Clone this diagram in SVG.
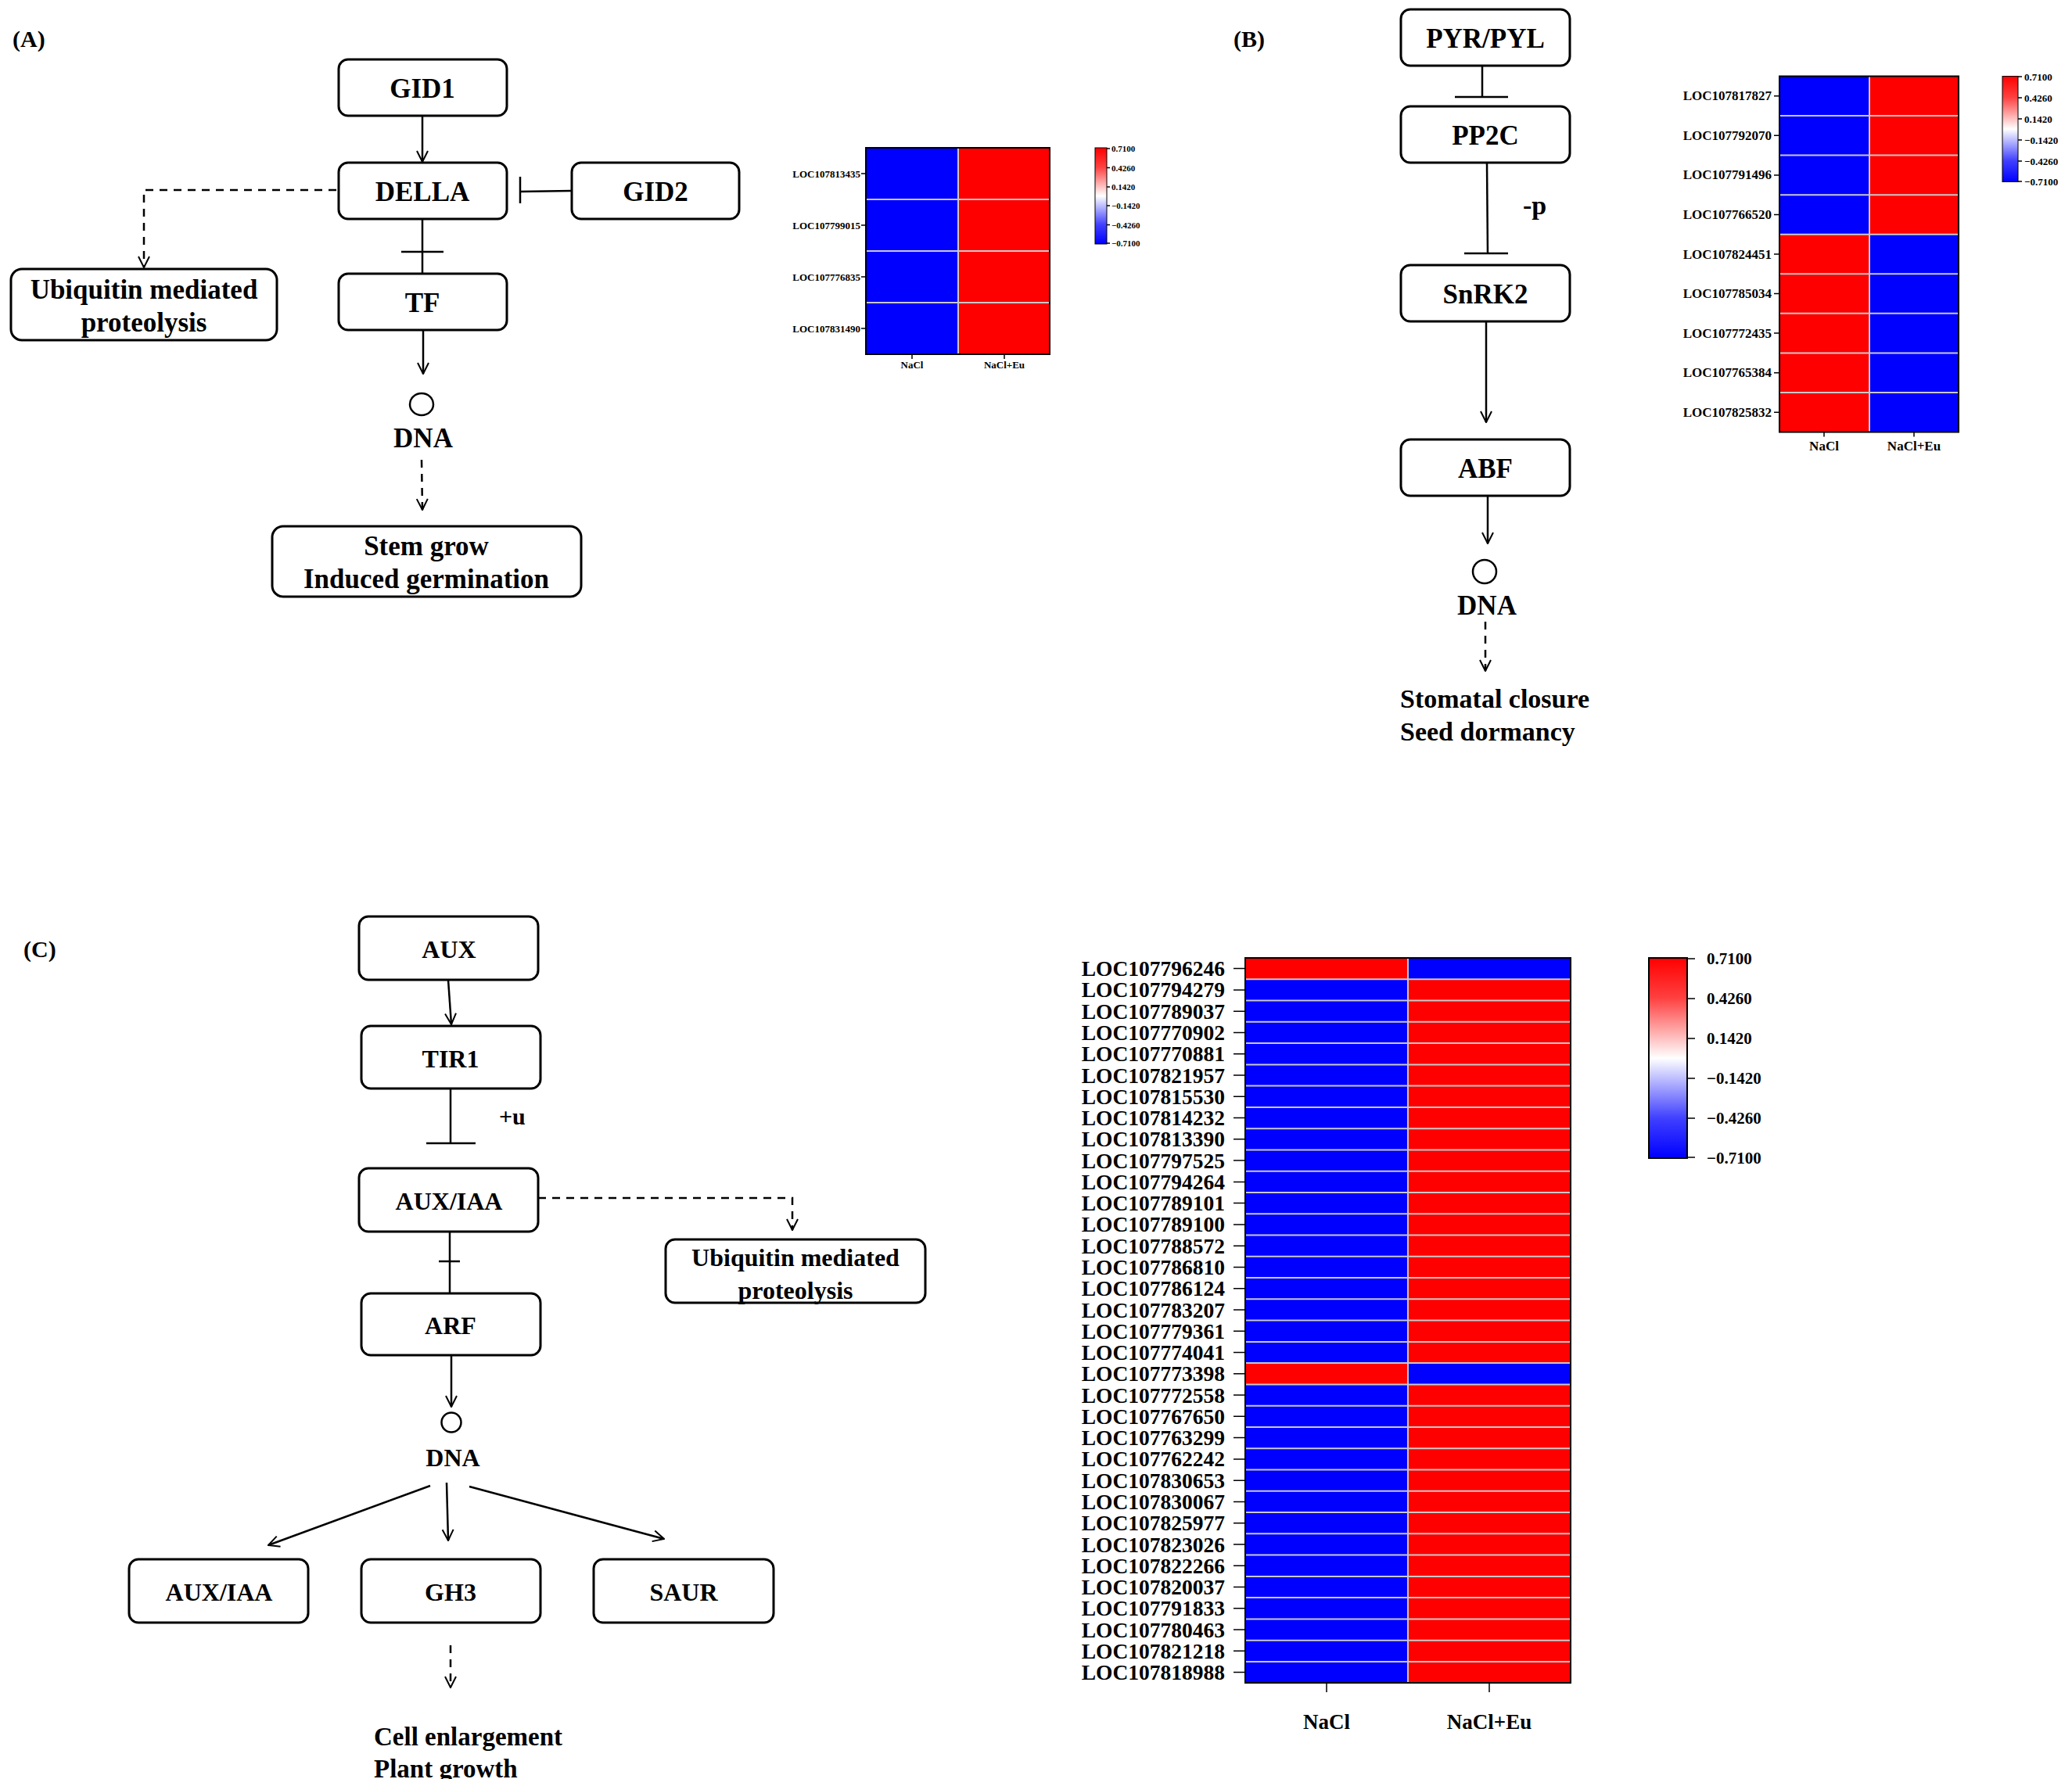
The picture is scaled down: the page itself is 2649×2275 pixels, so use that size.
<svg xmlns="http://www.w3.org/2000/svg" width="2649" height="2275" viewBox="0 0 2649 2275">
<style>
text{font-family:"Liberation Serif","Times New Roman",serif;font-weight:bold;fill:#000}
.box{fill:#fff;stroke:#000;stroke-width:3}
.ln{stroke:#000;stroke-width:2.5;fill:none}
.dash{stroke:#000;stroke-width:2.5;fill:none;stroke-dasharray:10 8}
.arr{marker-end:url(#ah)}
.t{font-size:35px;text-anchor:middle;dominant-baseline:central}
.tc{font-size:32px;text-anchor:middle;dominant-baseline:central}
.sep{stroke:#c8c8c8;stroke-width:2}
.hb{fill:none;stroke:#000;stroke-width:2}
.tk{stroke:#000;stroke-width:1.5}
</style>
<defs>
<marker id="ah" viewBox="0 0 16 16" refX="15" refY="8" markerWidth="16" markerHeight="18" markerUnits="userSpaceOnUse" orient="auto"><path d="M1,1 L15,8 L1,15" fill="none" stroke="#000" stroke-width="2"/></marker>
<linearGradient id="cb" x1="0" y1="0" x2="0" y2="1"><stop offset="0" stop-color="#ff0000"/><stop offset="0.2" stop-color="#ff4040"/><stop offset="0.5" stop-color="#ffffff"/><stop offset="0.8" stop-color="#4040ff"/><stop offset="1" stop-color="#0000ff"/></linearGradient>
</defs>
<rect width="2649" height="2275" fill="#fff"/>

<!-- Panel A -->
<text x="16" y="60" font-size="30">(A)</text>
<g id="connectorsA">
<line class="ln arr" x1="540" y1="148" x2="540" y2="207"/>
<line class="ln" x1="731" y1="244" x2="665" y2="245"/><line class="ln" x1="665" y1="226" x2="665" y2="260"/>
<line class="ln" x1="540" y1="280" x2="540" y2="349"/><line class="ln" x1="513" y1="322" x2="567" y2="322"/>
<path class="dash arr" d="M430,243 H184 V342"/>
<line class="ln arr" x1="541" y1="422" x2="541" y2="478"/>
<line class="dash arr" x1="539" y1="588" x2="540" y2="652"/>
</g>
<g id="GID1"><rect class="box" x="433" y="76" width="215" height="72" rx="12"/><text class="t" x="540" y="113">GID1</text></g>
<g id="DELLA"><rect class="box" x="433" y="208" width="215" height="72" rx="12"/><text class="t" x="540" y="245">DELLA</text></g>
<g id="GID2"><rect class="box" x="731" y="208" width="214" height="72" rx="12"/><text class="t" x="838" y="245">GID2</text></g>
<g id="TF"><rect class="box" x="433" y="350" width="215" height="72" rx="12"/><text class="t" x="540" y="387">TF</text></g>
<g id="UbiA"><rect class="box" x="14" y="344" width="340" height="91" rx="14"/><text class="t" x="184" y="370">Ubiquitin mediated</text><text class="t" x="184" y="412">proteolysis</text></g>
<g id="DNA_A"><ellipse cx="539" cy="517" rx="15" ry="14" fill="none" stroke="#000" stroke-width="2.5"/><text class="t" x="541" y="560">DNA</text></g>
<g id="StemA"><rect class="box" x="348" y="673" width="395" height="90" rx="14"/><text class="t" x="545" y="698">Stem grow</text><text class="t" x="545" y="740">Induced germination</text></g>
<g id="heatA">
<rect x="1107" y="189" width="118" height="264" fill="#0000ff"/><rect x="1225" y="189" width="117" height="264" fill="#ff0000"/>
<line class="sep" x1="1107" y1="255" x2="1342" y2="255"/><line class="sep" x1="1107" y1="321" x2="1342" y2="321"/><line class="sep" x1="1107" y1="387" x2="1342" y2="387"/>
<line class="sep" x1="1225" y1="189" x2="1225" y2="453"/>
<rect class="hb" x="1107" y="189" width="235" height="264" stroke-width="1.5"/>
<path class="tk" d="M1101,222h6M1101,288h6M1101,354h6M1101,420h6M1166,453v6M1284,453v6"/>
<g font-size="13" text-anchor="end" dominant-baseline="central"><text x="1100" y="222">LOC107813435</text><text x="1100" y="288">LOC107799015</text><text x="1100" y="354">LOC107776835</text><text x="1100" y="420">LOC107831490</text></g>
<g font-size="13" text-anchor="middle"><text x="1166" y="471">NaCl</text><text x="1284" y="471">NaCl+Eu</text></g>
<rect x="1400" y="189" width="15" height="123" fill="url(#cb)" stroke="#000" stroke-width="1"/>
<path class="tk" d="M1415,190h4M1415,214.5h4M1415,239h4M1415,263h4M1415,287.5h4M1415,311h4"/>
<g font-size="11" dominant-baseline="central"><text x="1421" y="190">0.7100</text><text x="1421" y="214.5">0.4260</text><text x="1421" y="239">0.1420</text><text x="1421" y="263">−0.1420</text><text x="1421" y="287.5">−0.4260</text><text x="1421" y="311">−0.7100</text></g>
</g>

<!-- Panel B -->
<text x="1577" y="60" font-size="30">(B)</text>
<g id="connectorsB">
<line class="ln" x1="1895" y1="84" x2="1895" y2="124"/><line class="ln" x1="1860" y1="124" x2="1928" y2="124"/>
<line class="ln" x1="1901" y1="208" x2="1902" y2="324"/><line class="ln" x1="1872" y1="324" x2="1928" y2="324"/>
<line class="ln arr" x1="1900" y1="411" x2="1900" y2="540"/>
<line class="ln arr" x1="1902" y1="634" x2="1902" y2="695"/>
<line class="dash arr" x1="1899" y1="795" x2="1899" y2="858"/>
</g>
<text x="1962" y="262" font-size="34" text-anchor="middle" dominant-baseline="central">-p</text>
<g id="PYR"><rect class="box" x="1791" y="12" width="216" height="72" rx="12"/><text class="t" x="1899" y="49">PYR/PYL</text></g>
<g id="PP2C"><rect class="box" x="1791" y="136" width="216" height="72" rx="12"/><text class="t" x="1899" y="173">PP2C</text></g>
<g id="SnRK2"><rect class="box" x="1791" y="339" width="216" height="72" rx="12"/><text class="t" x="1899" y="376">SnRK2</text></g>
<g id="ABF"><rect class="box" x="1791" y="562" width="216" height="72" rx="12"/><text class="t" x="1899" y="599">ABF</text></g>
<g id="DNA_B"><circle cx="1898" cy="731" r="15" fill="none" stroke="#000" stroke-width="2.5"/><text class="t" x="1901" y="774">DNA</text></g>
<g id="OutB" font-size="34"><text x="1790" y="905">Stomatal closure</text><text x="1790" y="947">Seed dormancy</text></g>
<g id="heatB">
<rect x="2275" y="97.5" width="115" height="455" fill="#0000ff"/><rect x="2390" y="97.5" width="114" height="455" fill="#ff0000"/>
<rect x="2275" y="299.7" width="115" height="252.8" fill="#ff0000"/><rect x="2390" y="299.7" width="114" height="252.8" fill="#0000ff"/>
<path class="sep" d="M2275,148.1H2504M2275,198.6H2504M2275,249.2H2504M2275,299.7H2504M2275,350.3H2504M2275,400.8H2504M2275,451.4H2504M2275,501.9H2504M2390,97.5V552.5"/>
<rect class="hb" x="2275" y="97.5" width="229" height="455" stroke-width="1.5"/>
<path class="tk" d="M2268,122.8h7M2268,173.3h7M2268,223.9h7M2268,274.5h7M2268,325h7M2268,375.6h7M2268,426.1h7M2268,476.7h7M2268,527.2h7M2332,552.5v6M2447,552.5v6"/>
<g font-size="17" text-anchor="end" dominant-baseline="central"><text x="2265" y="122.8">LOC107817827</text><text x="2265" y="173.3">LOC107792070</text><text x="2265" y="223.9">LOC107791496</text><text x="2265" y="274.5">LOC107766520</text><text x="2265" y="325">LOC107824451</text><text x="2265" y="375.6">LOC107785034</text><text x="2265" y="426.1">LOC107772435</text><text x="2265" y="476.7">LOC107765384</text><text x="2265" y="527.2">LOC107825832</text></g>
<g font-size="17" text-anchor="middle"><text x="2332" y="576">NaCl</text><text x="2447" y="576">NaCl+Eu</text></g>
<rect x="2560" y="97.5" width="20" height="135" fill="url(#cb)" stroke="#000" stroke-width="1"/>
<path class="tk" d="M2580,98h5M2580,125h5M2580,152h5M2580,179h5M2580,206h5M2580,232h5"/>
<g font-size="13" dominant-baseline="central"><text x="2588" y="98">0.7100</text><text x="2588" y="125">0.4260</text><text x="2588" y="152">0.1420</text><text x="2588" y="179">−0.1420</text><text x="2588" y="206">−0.4260</text><text x="2588" y="232">−0.7100</text></g>
</g>

<!-- Panel C -->
<text x="30" y="1224" font-size="30">(C)</text>
<g id="connectorsC">
<line class="ln arr" x1="573" y1="1253" x2="577" y2="1310"/>
<line class="ln" x1="576" y1="1392" x2="576" y2="1462"/><line class="ln" x1="545" y1="1462" x2="608" y2="1462"/>
<path class="dash arr" d="M688,1532 H1013 V1573"/>
<line class="ln" x1="575" y1="1575" x2="575" y2="1654"/><line class="ln" x1="561" y1="1613" x2="588" y2="1613"/>
<line class="ln arr" x1="577" y1="1733" x2="577" y2="1799"/>
<line class="ln arr" x1="550" y1="1900" x2="343" y2="1976"/>
<line class="ln arr" x1="571" y1="1896" x2="573" y2="1970"/>
<line class="ln arr" x1="600" y1="1901" x2="849" y2="1968"/>
<line class="dash arr" x1="576" y1="2104" x2="576" y2="2158"/>
</g>
<text x="638" y="1427" font-size="30" dominant-baseline="central">+u</text>
<g id="AUX"><rect class="box" x="459" y="1172" width="229" height="81" rx="12" stroke-width="2.5"/><text class="tc" x="574" y="1214">AUX</text></g>
<g id="TIR1"><rect class="box" x="462" y="1312" width="229" height="80" rx="12" stroke-width="2.5"/><text class="tc" x="576" y="1354">TIR1</text></g>
<g id="AUXIAA"><rect class="box" x="459" y="1494" width="229" height="81" rx="12" stroke-width="2.5"/><text class="tc" x="574" y="1536">AUX/IAA</text></g>
<g id="UbiC"><rect class="box" x="851" y="1585" width="332" height="81" rx="12" stroke-width="2.5"/><text class="tc" x="1017" y="1608">Ubiquitin mediated</text><text class="tc" x="1017" y="1650">proteolysis</text></g>
<g id="ARF"><rect class="box" x="462" y="1654" width="229" height="79" rx="12" stroke-width="2.5"/><text class="tc" x="576" y="1695">ARF</text></g>
<g id="DNA_C"><circle cx="577" cy="1819" r="12.5" fill="none" stroke="#000" stroke-width="2.5"/><text class="tc" x="579" y="1864">DNA</text></g>
<g id="AUXIAA2"><rect class="box" x="165" y="1994" width="229" height="81" rx="12" stroke-width="2.5"/><text class="tc" x="280" y="2036">AUX/IAA</text></g>
<g id="GH3"><rect class="box" x="462" y="1994" width="229" height="81" rx="12" stroke-width="2.5"/><text class="tc" x="576" y="2036">GH3</text></g>
<g id="SAUR"><rect class="box" x="759" y="1994" width="230" height="81" rx="12" stroke-width="2.5"/><text class="tc" x="874" y="2036">SAUR</text></g>
<g id="OutC" font-size="33"><text x="478" y="2232">Cell enlargement</text><text x="478" y="2273">Plant growth</text></g>
<g id="heatC">
<rect x="1592" y="1225" width="208" height="927" fill="#0000ff"/><rect x="1800" y="1225" width="208" height="927" fill="#ff0000"/>
<rect x="1592" y="1225" width="208" height="27.27" fill="#ff0000"/><rect x="1800" y="1225" width="208" height="27.27" fill="#0000ff"/>
<rect x="1592" y="1743.1" width="208" height="27.27" fill="#ff0000"/><rect x="1800" y="1743.1" width="208" height="27.27" fill="#0000ff"/>
<path class="sep" d="M1592,1252.3H2008M1592,1279.5H2008M1592,1306.8H2008M1592,1334.1H2008M1592,1361.4H2008M1592,1388.6H2008M1592,1415.9H2008M1592,1443.2H2008M1592,1470.4H2008M1592,1497.7H2008M1592,1525H2008M1592,1552.2H2008M1592,1579.5H2008M1592,1606.8H2008M1592,1634.1H2008M1592,1661.3H2008M1592,1688.6H2008M1592,1715.9H2008M1592,1743.1H2008M1592,1770.4H2008M1592,1797.7H2008M1592,1825H2008M1592,1852.2H2008M1592,1879.5H2008M1592,1906.8H2008M1592,1934H2008M1592,1961.3H2008M1592,1988.6H2008M1592,2015.9H2008M1592,2043.1H2008M1592,2070.4H2008M1592,2097.7H2008M1592,2124.9H2008M1800,1225V2152"/>
<rect class="hb" x="1592" y="1225" width="416" height="927" stroke-width="3"/>
<path class="tk" stroke-width="2.5" d="M1577,1238.6h15M1577,1265.9h15M1577,1293.2h15M1577,1320.5h15M1577,1347.7h15M1577,1375h15M1577,1402.3h15M1577,1429.5h15M1577,1456.8h15M1577,1484.1h15M1577,1511.4h15M1577,1538.6h15M1577,1565.9h15M1577,1593.2h15M1577,1620.4h15M1577,1647.7h15M1577,1675h15M1577,1702.3h15M1577,1729.5h15M1577,1756.8h15M1577,1784.1h15M1577,1811.3h15M1577,1838.6h15M1577,1865.9h15M1577,1893.2h15M1577,1920.4h15M1577,1947.7h15M1577,1975h15M1577,2002.2h15M1577,2029.5h15M1577,2056.8h15M1577,2084.1h15M1577,2111.3h15M1577,2138.6h15M1696,2152v12M1904,2152v12"/>
<g font-size="27.5" text-anchor="end" dominant-baseline="central">
<text x="1566" y="1238.6">LOC107796246</text><text x="1566" y="1265.9">LOC107794279</text><text x="1566" y="1293.2">LOC107789037</text><text x="1566" y="1320.5">LOC107770902</text><text x="1566" y="1347.7">LOC107770881</text><text x="1566" y="1375">LOC107821957</text><text x="1566" y="1402.3">LOC107815530</text><text x="1566" y="1429.5">LOC107814232</text><text x="1566" y="1456.8">LOC107813390</text><text x="1566" y="1484.1">LOC107797525</text><text x="1566" y="1511.4">LOC107794264</text><text x="1566" y="1538.6">LOC107789101</text><text x="1566" y="1565.9">LOC107789100</text><text x="1566" y="1593.2">LOC107788572</text><text x="1566" y="1620.4">LOC107786810</text><text x="1566" y="1647.7">LOC107786124</text><text x="1566" y="1675">LOC107783207</text><text x="1566" y="1702.3">LOC107779361</text><text x="1566" y="1729.5">LOC107774041</text><text x="1566" y="1756.8">LOC107773398</text><text x="1566" y="1784.1">LOC107772558</text><text x="1566" y="1811.3">LOC107767650</text><text x="1566" y="1838.6">LOC107763299</text><text x="1566" y="1865.9">LOC107762242</text><text x="1566" y="1893.2">LOC107830653</text><text x="1566" y="1920.4">LOC107830067</text><text x="1566" y="1947.7">LOC107825977</text><text x="1566" y="1975">LOC107823026</text><text x="1566" y="2002.2">LOC107822266</text><text x="1566" y="2029.5">LOC107820037</text><text x="1566" y="2056.8">LOC107791833</text><text x="1566" y="2084.1">LOC107780463</text><text x="1566" y="2111.3">LOC107821218</text><text x="1566" y="2138.6">LOC107818988</text>
</g>
<g font-size="27" text-anchor="middle"><text x="1696" y="2211">NaCl</text><text x="1904" y="2211">NaCl+Eu</text></g>
<rect x="2108" y="1225" width="49" height="256" fill="url(#cb)" stroke="#000" stroke-width="2"/>
<path class="tk" stroke-width="2" d="M2157,1226h10M2157,1277h10M2157,1328h10M2157,1379h10M2157,1430h10M2157,1480h10"/>
<g font-size="21" dominant-baseline="central"><text x="2182" y="1226">0.7100</text><text x="2182" y="1277">0.4260</text><text x="2182" y="1328">0.1420</text><text x="2182" y="1379">−0.1420</text><text x="2182" y="1430">−0.4260</text><text x="2182" y="1481">−0.7100</text></g>
</g>
</svg>
